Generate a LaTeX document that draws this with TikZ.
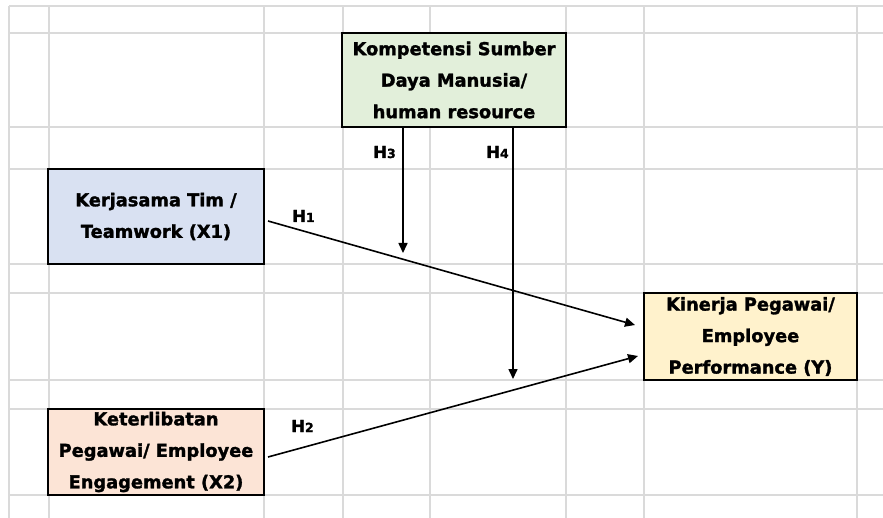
\documentclass[tikz,border=0pt]{standalone}
\usepackage{fontspec}
\setmainfont{DejaVu Sans}[BoldFeatures={FakeBold=1.6}]
\usetikzlibrary{arrows.meta}
\definecolor{gridc}{HTML}{DADADA}
\definecolor{kgreen}{HTML}{E2EFDA}
\definecolor{kblue}{HTML}{D9E1F2}
\definecolor{korange}{HTML}{FCE4D6}
\definecolor{kyellow}{HTML}{FFF2CC}
\newcommand\hnum[1]{{\fontsize{12.5}{14}\selectfont #1}}
\begin{document}
\begin{tikzpicture}[x=1pt,y=-1pt,
  gridline/.style={draw=gridc,line width=1.4pt},
  varbox/.style={draw=black,line width=2pt,inner sep=0pt,outer sep=0pt,align=center,
    font=\bfseries\fontsize{17.8}{31.5}\selectfont},
  hlab/.style={inner sep=0pt,anchor=base west,font=\bfseries\fontsize{16.5}{18}\selectfont},
  arr/.style={draw=black,line width=1.6pt,-{Triangle[length=10pt,width=9pt]}}]
\useasboundingbox (0,0) rectangle (883,518);
\fill[white] (0,0) rectangle (883,518);
% spreadsheet grid
\foreach \x in {9,49,264,343,430,566,644,857}
  \draw[gridline] (\x,6) -- (\x,518);
\foreach \y in {6,33,127,169,264,293,380,409,495}
  \draw[gridline] (9,\y) -- (883,\y);
% variable boxes
\node[varbox,fill=kgreen,minimum width=224pt,minimum height=94pt] (kom) at (454,80)
  {Kompetensi Sumber\\Daya Manusia/\\human resource};
\node[varbox,fill=kblue,minimum width=216pt,minimum height=95pt] (kt) at (156,216.5)
  {Kerjasama Tim /\\Teamwork (X1)};
\node[varbox,fill=korange,minimum width=216pt,minimum height=86pt] (ke) at (156,452)
  {Keterlibatan\\Pegawai/ Employee\\Engagement (X2)};
\node[varbox,fill=kyellow,minimum width=213pt,minimum height=87pt] (kp) at (750.5,336.5)
  {Kinerja Pegawai/\\Employee\\Performance (Y)};
% free ends of moderating arrows
\coordinate (h3end) at (403,253);
\coordinate (h4end) at (513,379);
% connectors
\draw[arr] ([xshift=4pt,yshift=-4.5pt]kt.east) -- ([xshift=-9pt,yshift=11.5pt]kp.west);
\draw[arr] ([xshift=4pt,yshift=-5pt]ke.east) -- ([xshift=-6pt,yshift=-19.5pt]kp.west);
\draw[arr] ([xshift=-51pt]kom.south) -- (h3end);
\draw[arr] ([xshift=59pt]kom.south) -- (h4end);
% labels
\node[hlab] (h1) at (292,222) {H\hnum{1}};
\node[hlab] (h2) at (291,432) {H\hnum{2}};
\node[hlab] (h3) at (373,158) {H\hnum{3}};
\node[hlab] (h4) at (486,158) {H\hnum{4}};
\end{tikzpicture}
\end{document}
